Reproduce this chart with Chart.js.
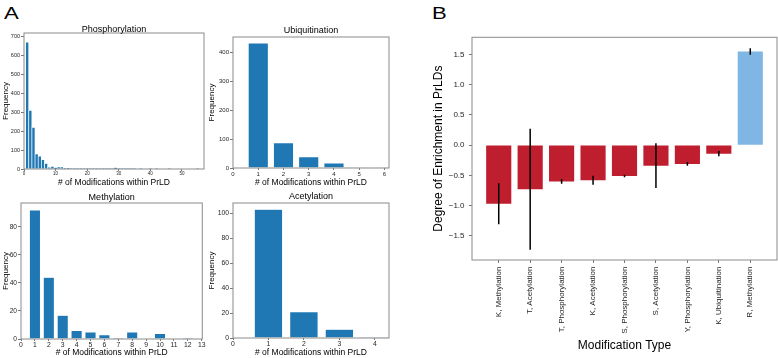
<!DOCTYPE html>
<html>
<head>
<meta charset="utf-8">
<script src="https://cdn.jsdelivr.net/npm/chart.js@4.4.0/dist/chart.umd.min.js"></script>
<style>
  body { margin: 0; background: #fff; width: 778px; height: 358px; position: relative; overflow: hidden;
         font-family: "Liberation Sans", Arial, sans-serif; }
  .box { position: absolute; }
  .letter { position: absolute; font-size: 17px; line-height: 17px; color: #000;
            transform: scaleX(1.3); transform-origin: left top; }
</style>
</head>
<body>
<div class="letter" style="left:4px;top:5px">A</div>
<div class="letter" style="left:432px;top:5px">B</div>
<div class="box" id="phosBox"><canvas id="phosChart"></canvas></div>
<div class="box" id="ubiqBox"><canvas id="ubiqChart"></canvas></div>
<div class="box" id="methBox"><canvas id="methChart"></canvas></div>
<div class="box" id="acetBox"><canvas id="acetChart"></canvas></div>
<div class="box" id="enrBox"><canvas id="enrChart"></canvas></div>
<script>
// frequency of proteins with n modifications inside the PrLD (n = 1, 2, 3, ...)
const phosCounts = [670, 310, 220, 80, 68, 50, 30, 10, 14, 8, 11, 11, 4, 3, 2, 2, 2, 1, 2, 1,
                    1, 1, 1, 2, 1, 1, 1, 2, 8, 1, 1, 2, 1, 1, 1, 0, 1, 0, 0, 1,
                    0, 1, 0, 0, 0, 1, 0, 0, 0, 0, 0, 0, 0, 0, 1];
const ubiqCounts = [431, 87, 39, 17, 1, 1];
const methCounts = [92, 44, 17, 6, 5, 3, 1, 5, 0, 4, 0, 1];
const acetCounts = [103, 21, 7, 1];

// panel B
const modTypes = ["K, Methylation", "T, Acetylation", "T, Phosphorylation", "K, Acetylation",
                  "S, Phosphorylation", "S, Acetylation", "Y, Phosphorylation", "K, Ubiquitination",
                  "R, Methylation"];
const enrichment = [-0.97, -0.73, -0.60, -0.58, -0.51, -0.34, -0.31, -0.14, 1.55];
const enrichmentErr = [0.34, 1.0, 0.04, 0.075, 0.02, 0.37, 0.03, 0.045, 0.055];

const FONT = '"Liberation Sans", Arial, sans-serif';
Chart.defaults.font.family = FONT;
Chart.defaults.color = '#262626';

const framePlugin = {
  id: 'frame',
  afterDatasetsDraw(chart) {
    const {ctx, chartArea: c} = chart;
    ctx.save();
    ctx.strokeStyle = '#8a8a8a';
    ctx.lineWidth = 1;
    ctx.strokeRect(c.left, c.top, c.right - c.left, c.bottom - c.top);
    ctx.restore();
  }
};

const titlePlugin = {
  id: 'panelTitle',
  afterDraw(chart, args, opts) {
    if (!opts.text) return;
    const {ctx, chartArea: c} = chart;
    ctx.save();
    ctx.font = opts.size + 'px ' + FONT;
    ctx.fillStyle = '#000';
    ctx.textAlign = 'center';
    ctx.textBaseline = 'middle';
    ctx.fillText(opts.text, (c.left + c.right) / 2, c.top - opts.offset);
    ctx.restore();
  }
};

const errPlugin = {
  id: 'errBars',
  afterDatasetsDraw(chart) {
    const {ctx, scales: {x, y}} = chart;
    ctx.save();
    ctx.strokeStyle = '#000';
    ctx.lineWidth = 1.5;
    ctx.beginPath();
    enrichment.forEach((v, i) => {
      const px = x.getPixelForValue(i);
      ctx.moveTo(px, y.getPixelForValue(v + enrichmentErr[i]));
      ctx.lineTo(px, y.getPixelForValue(v - enrichmentErr[i]));
    });
    ctx.stroke();
    ctx.restore();
  }
};

// put the canvas so that the plot area lands on a = {l, t, r, b}
function place(id, a) {
  const el = document.getElementById(id);
  el.style.left = (a.l - a.yW) + 'px';
  el.style.top = (a.t - a.padTop) + 'px';
  el.style.width = (a.r - a.l + a.yW + a.padRight) + 'px';
  el.style.height = (a.b - a.t + a.padTop + a.xH) + 'px';
}

const tickGrid = {drawOnChartArea: false, tickLength: 3, color: '#555', lineWidth: 0.8, offset: false};
const xTickGrid = {drawOnChartArea: false, tickLength: 2, color: '#555', lineWidth: 0.8, offset: false};

function histChart(id, boxId, a, counts, o) {
  place(boxId, a);
  return new Chart(document.getElementById(id), {
    type: 'bar',
    data: {
      datasets: [{
        data: counts.map((v, i) => ({x: i + 1, y: v})),
        backgroundColor: '#1f77b4',
        borderColor: '#ffffff',
        borderWidth: o.edge,
        barPercentage: o.barPct,
        categoryPercentage: 1
      }]
    },
    options: {
      responsive: true,
      maintainAspectRatio: false,
      animation: false,
      layout: {padding: {top: a.padTop, right: a.padRight, left: 0, bottom: 0}},
      plugins: {
        legend: {display: false},
        tooltip: {enabled: false},
        panelTitle: {text: o.title, size: 9, offset: o.titleOff}
      },
      scales: {
        x: {
          type: 'linear', min: 0, max: o.xMax, offset: false,
          ticks: {stepSize: o.xStep, includeBounds: false, autoSkip: false, maxRotation: 0,
                  font: {size: o.xTick}, padding: 0.5},
          grid: xTickGrid,
          border: {display: false},
          title: {display: true, text: '# of Modifications within PrLD', color: '#000',
                  font: {size: 8.5}, padding: {top: 0, bottom: a.xTitlePad}},
          afterFit(s) { s.height = a.xH; }
        },
        y: {
          min: 0, max: o.yMax,
          ticks: {stepSize: o.yStep, includeBounds: false, font: {size: o.yTick}, padding: 1},
          grid: tickGrid,
          border: {display: false},
          title: {display: true, text: 'Frequency', color: '#000',
                  font: {size: 8}, padding: {top: a.yTitlePad, bottom: 0}},
          afterFit(s) { s.width = a.yW; }
        }
      }
    },
    plugins: [framePlugin, titlePlugin]
  });
}

histChart('phosChart', 'phosBox',
  {l: 24, t: 33, r: 204, b: 169, yW: 24, padTop: 15, padRight: 2, xH: 20, xTitlePad: 0.9, yTitlePad: 1},
  phosCounts,
  {title: 'Phosphorylation', titleOff: 3.5, xMax: 57, xStep: 10, yMax: 718, yStep: 100,
   xTick: 4.5, yTick: 5.5, edge: 0.7, barPct: 1});

histChart('ubiqChart', 'ubiqBox',
  {l: 233, t: 37, r: 389, b: 168, yW: 28, padTop: 15, padRight: 2, xH: 21, xTitlePad: 0.9, yTitlePad: 2.2},
  ubiqCounts,
  {title: 'Ubiquitination', titleOff: 6, xMax: 6.18, xStep: 1, yMax: 452, yStep: 100,
   xTick: 6, yTick: 6, edge: 0.5, barPct: 0.8});

histChart('methChart', 'methBox',
  {l: 21, t: 203, r: 204, b: 339, yW: 21, padTop: 15, padRight: 2, xH: 19, xTitlePad: 0, yTitlePad: 0.5},
  methCounts,
  {title: 'Methylation', titleOff: 5.5, xMax: 13.04, xStep: 1, yMax: 97, yStep: 20,
   xTick: 6.8, yTick: 6.6, edge: 0.5, barPct: 0.8});

histChart('acetChart', 'acetBox',
  {l: 233, t: 203, r: 389, b: 338, yW: 28, padTop: 15, padRight: 2, xH: 20, xTitlePad: 0, yTitlePad: 2.2},
  acetCounts,
  {title: 'Acetylation', titleOff: 6, xMax: 4.4, xStep: 1, yMax: 108, yStep: 20,
   xTick: 6.8, yTick: 6.8, edge: 0.5, barPct: 0.8});

// panel B
const enrArea = {l: 472, t: 33, r: 777, b: 260, yW: 52, padTop: 5, padRight: 1, xH: 98};
place('enrBox', enrArea);
new Chart(document.getElementById('enrChart'), {
  type: 'bar',
  data: {
    datasets: [{
      data: enrichment.map((v, i) => ({x: i, y: v})),
      backgroundColor: enrichment.map(v => v < 0 ? '#be1e2d' : '#7fb6e3'),
      borderWidth: 0,
      barPercentage: 0.8,
      categoryPercentage: 1
    }]
  },
  options: {
    responsive: true,
    maintainAspectRatio: false,
    animation: false,
    layout: {padding: {top: enrArea.padTop, right: enrArea.padRight, left: 0, bottom: 0}},
    plugins: {legend: {display: false}, tooltip: {enabled: false}},
    scales: {
      x: {
        type: 'linear', min: -0.85, max: 8.85, offset: false,
        ticks: {stepSize: 1, includeBounds: false, autoSkip: false, minRotation: 90, maxRotation: 90,
                font: {size: 8}, padding: 3.5,
                callback: v => modTypes[v]},
        grid: tickGrid,
        border: {display: false},
        title: {display: true, text: 'Modification Type', color: '#000', font: {size: 12},
                padding: {top: 0, bottom: 5}},
        afterFit(s) { s.height = enrArea.xH; }
      },
      y: {
        min: -1.9, max: 1.785,
        ticks: {stepSize: 0.5, includeBounds: false, font: {size: 8}, padding: 4.5,
                callback: v => v.toFixed(1).replace('-', '\u2212')},
        grid: tickGrid,
        border: {display: false},
        title: {display: true, text: 'Degree of Enrichment in PrLDs', color: '#000', font: {size: 12},
                padding: {top: 11.8, bottom: 0}},
        afterFit(s) { s.width = enrArea.yW; }
      }
    }
  },
  plugins: [framePlugin, errPlugin]
});
</script>
</body>
</html>
